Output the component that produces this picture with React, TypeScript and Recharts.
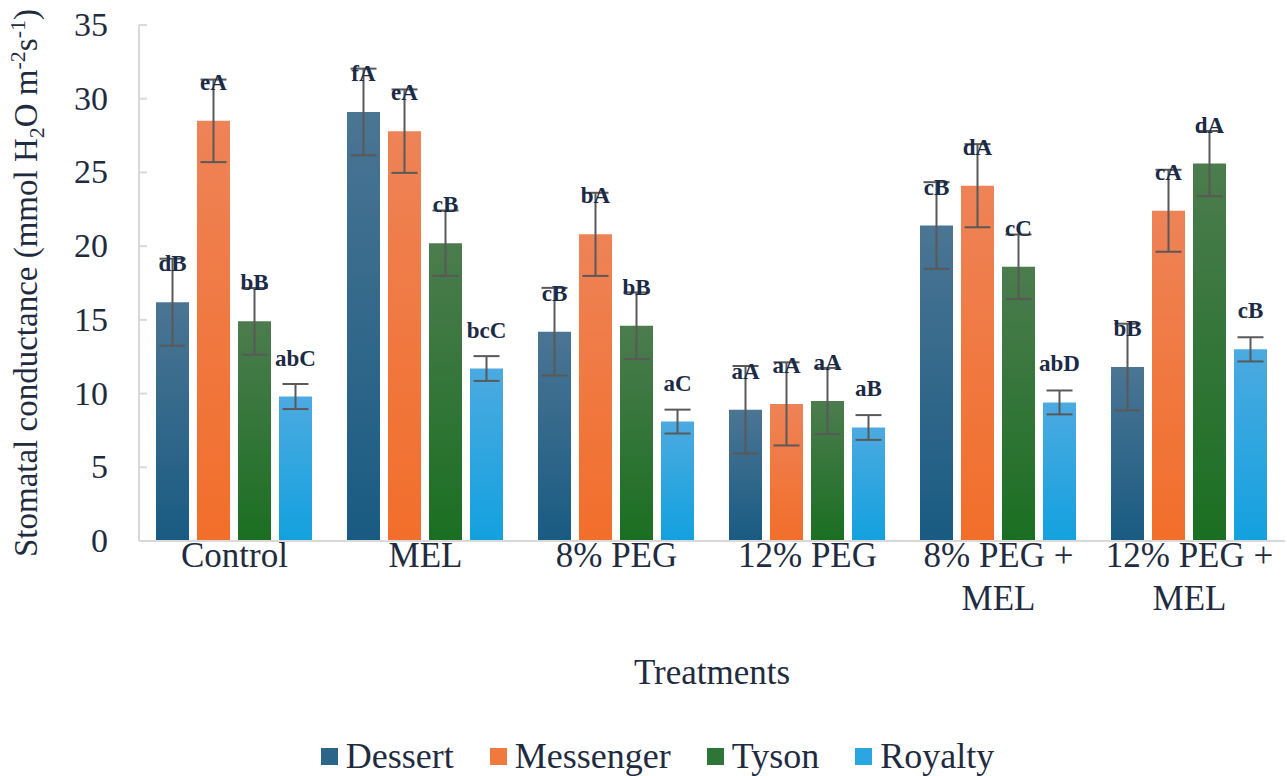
import React from 'react';
import { ComposedChart, Bar, XAxis, YAxis, ErrorBar, LabelList, Legend, Label } from 'recharts';

const treatments = ['Control', 'MEL', '8% PEG', '12% PEG', '8% PEG +\nMEL', '12% PEG +\nMEL'];

const dessert = [16.2, 29.1, 14.2, 8.9, 21.4, 11.8];
const messenger = [28.5, 27.8, 20.8, 9.3, 24.1, 22.4];
const tyson = [14.9, 20.2, 14.6, 9.5, 18.6, 25.6];
const royalty = [9.8, 11.7, 8.1, 7.7, 9.4, 13.0];

const dessertErr = [2.95, 2.94, 2.97, 2.97, 2.94, 2.94];
const messengerErr = [2.8, 2.83, 2.82, 2.82, 2.82, 2.78];
const tysonErr = [2.26, 2.22, 2.26, 2.24, 2.19, 2.21];
const royaltyErr = [0.85, 0.84, 0.81, 0.84, 0.81, 0.82];

const dessertLbl = ['dB', 'fA', 'cB', 'aA', 'cB', 'bB'];
const messengerLbl = ['eA', 'eA', 'bA', 'aA', 'dA', 'cA'];
const tysonLbl = ['bB', 'cB', 'bB', 'aA', 'cC', 'dA'];
const royaltyLbl = ['abC', 'bcC', 'aC', 'aB', 'abD', 'cB'];

const yTicks = [0, 5, 10, 15, 20, 25, 30, 35];
const boundaryTicks = [0, 1, 2, 3, 4, 5, 6];

const series = [
  { key: 'Dessert', values: dessert, errs: dessertErr, lbls: dessertLbl, top: '#4b7593', bottom: '#195b82', swatch: '#2b6689' },
  { key: 'Messenger', values: messenger, errs: messengerErr, lbls: messengerLbl, top: '#ee8357', bottom: '#f26e2a', swatch: '#f07a3e' },
  { key: 'Tyson', values: tyson, errs: tysonErr, lbls: tysonLbl, top: '#4c7c4e', bottom: '#1a6f22', swatch: '#2d7635' },
  { key: 'Royalty', values: royalty, errs: royaltyErr, lbls: royaltyLbl, top: '#4caae0', bottom: '#12a1df', swatch: '#2aa6e0' },
];

const data = treatments.map((t, i) => {
  const row: any = { treatment: t };
  series.forEach((s) => {
    row[s.key] = s.values[i];
    row[s.key + 'Err'] = s.errs[i];
    row[s.key + 'Lbl'] = s.lbls[i];
  });
  return row;
});

const FONT = '"Liberation Serif", "Times New Roman", serif';
const AXIS_COLOR = '#d9d9d9';
const TEXT_COLOR = '#1f2b3f';

const YTick = (props: any) => {
  const { x, y, payload } = props;
  return (
    <g>
      <line x1={x} x2={x + 8} y1={y} y2={y} stroke={AXIS_COLOR} strokeWidth={2} />
      <text x={x - 31} y={y} dy={11} textAnchor="end" fontSize={34} fill={TEXT_COLOR} fontFamily={FONT}>
        {payload.value}
      </text>
    </g>
  );
};

const XTick = (props: any) => {
  const { x, y, payload } = props;
  const lines = String(payload.value).split('\n');
  return (
    <text x={x} y={y} textAnchor="middle" fontSize={35} fill={TEXT_COLOR} fontFamily={FONT}>
      {lines.map((l, i) => (
        <tspan key={i} x={x} dy={i === 0 ? 26 : 43}>
          {l}
        </tspan>
      ))}
    </text>
  );
};

const YTitle = (props: any) => {
  const { viewBox } = props;
  const cy = viewBox.y + viewBox.height / 2;
  return (
    <text
      transform={`translate(37, ${cy}) rotate(-90)`}
      x={0}
      y={0}
      textAnchor="middle"
      fontSize={33}
      fill={TEXT_COLOR}
      fontFamily={FONT}
    >
      <tspan>Stomatal conductance (mmol H</tspan>
      <tspan dy={7} fontSize={22}>2</tspan>
      <tspan dy={-7}>O m</tspan>
      <tspan dy={-12} fontSize={22}>-2</tspan>
      <tspan dy={12}>s</tspan>
      <tspan dy={-12} fontSize={22}>-1</tspan>
      <tspan dy={12}>)</tspan>
    </text>
  );
};

const XTitle = (props: any) => {
  const { viewBox } = props;
  const cx = viewBox.x + viewBox.width / 2;
  return (
    <text x={cx} y={684} textAnchor="middle" fontSize={35} fill={TEXT_COLOR} fontFamily={FONT}>
      Treatments
    </text>
  );
};

const BarLabel = (props: any) => {
  const { x, y, width, value } = props;
  return (
    <text
      x={Number(x) + Number(width) / 2}
      y={Number(y) - 31}
      textAnchor="middle"
      fontSize={23}
      fontWeight="bold"
      fill="#1b2a45"
      fontFamily={FONT}
    >
      {value}
    </text>
  );
};

const LegendContent = () => (
  <div
    style={{
      display: 'flex',
      justifyContent: 'center',
      alignItems: 'center',
      paddingLeft: 28,
      fontFamily: FONT,
      fontSize: 36,
      color: TEXT_COLOR,
      lineHeight: '36px',
    }}
  >
    {series.map((s) => (
      <span key={s.key} style={{ display: 'flex', alignItems: 'center', margin: '0 18px' }}>
        <span style={{ display: 'inline-block', width: 17, height: 17, background: s.swatch, marginRight: 8 }} />
        {s.key}
      </span>
    ))}
  </div>
);

export default function App() {
  return (
    <div style={{ position: 'absolute', left: 0, top: 0, width: 1287, height: 776, background: '#fff' }}>
      <ComposedChart
        width={1287}
        height={776}
        data={data}
        margin={{ top: 25, right: 2, left: 0, bottom: 2 }}
        barCategoryGap={17}
        barGap={8}
      >
        <defs>
          {series.map((s) => (
            <linearGradient key={s.key} id={'grad' + s.key} x1="0" y1="0" x2="0" y2="1">
              <stop offset="0%" stopColor={s.top} />
              <stop offset="100%" stopColor={s.bottom} />
            </linearGradient>
          ))}
        </defs>
        <XAxis
          dataKey="treatment"
          height={197}
          tickLine={false}
          tickSize={0}
          tickMargin={0}
          axisLine={{ stroke: AXIS_COLOR, strokeWidth: 2 }}
          tick={<XTick />}
          interval={0}
        >
          <Label content={<XTitle />} />
        </XAxis>
        <XAxis
          xAxisId="bounds"
          type="number"
          domain={[0, 6]}
          ticks={boundaryTicks}
          allowDataOverflow
          mirror
          height={0}
          tickSize={8}
          tick={false}
          tickLine={{ stroke: AXIS_COLOR, strokeWidth: 2 }}
          axisLine={false}
        />
        <YAxis
          width={139}
          domain={[0, 35]}
          ticks={yTicks}
          interval={0}
          tickLine={false}
          tickSize={0}
          tickMargin={0}
          axisLine={{ stroke: AXIS_COLOR, strokeWidth: 2 }}
          tick={<YTick />}
        >
          <Label content={<YTitle />} />
        </YAxis>
        <Legend verticalAlign="bottom" height={36} wrapperStyle={{ left: 0, width: 1287, bottom: 2 }} content={<LegendContent />} />
        {series.map((s) => (
          <Bar key={s.key} dataKey={s.key} name={s.key} fill={`url(#grad${s.key})`} isAnimationActive={false}>
            <ErrorBar dataKey={s.key + 'Err'} width={13} strokeWidth={2} stroke="#595959" />
            <LabelList dataKey={s.key + 'Lbl'} content={<BarLabel />} />
          </Bar>
        ))}
      </ComposedChart>
    </div>
  );
}
